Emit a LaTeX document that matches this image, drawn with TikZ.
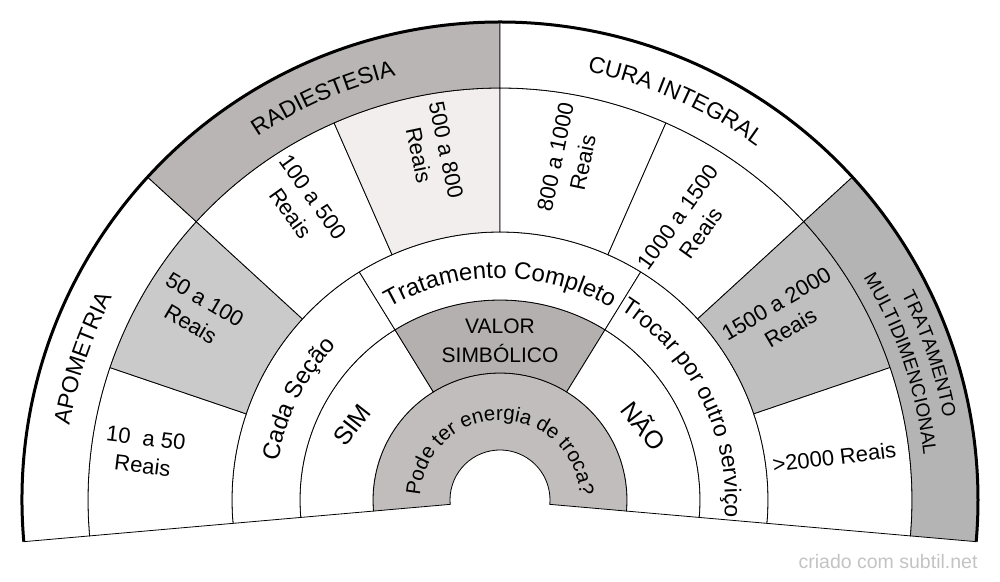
\documentclass[tikz,border=0pt]{standalone}
\usepackage{fontspec}
\setmainfont{Liberation Sans}
\usepackage{tikz}
\usetikzlibrary{decorations.text}
\definecolor{radiest}{RGB}{184,181,180}
\definecolor{multi}{RGB}{180,180,180}
\definecolor{cinzaclaro}{RGB}{203,202,202}
\definecolor{rosado}{RGB}{242,238,238}
\definecolor{cinzamedio}{RGB}{192,191,191}
\definecolor{valor}{RGB}{181,176,176}
\definecolor{troca}{RGB}{192,189,188}
\definecolor{marca}{RGB}{195,195,195}
\tikzset{
fatia/.style={draw=black,line width=0.8pt},
preco/.style={font=\fontsize{22}{28}\selectfont,align=center},
curva/.style={decorate,decoration={text along path,text align=center,text={#1}}}
}
\begin{document}
\begin{tikzpicture}[x=1pt,y=1pt]
\useasboundingbox (-500,-81) rectangle (500,500);
\foreach \a/\b/\r/\R/\c in {185/-5/50/127/troca,
185/121.67/127/200/white,121.67/58.33/127/200/valor,58.33/-5/127/200/white,
185/121.67/200/268/white,121.67/58.33/200/268/white,58.33/-5/200/268/white,
185/161.25/268/412/white,161.25/137.5/268/412/cinzaclaro,137.5/113.75/268/412/white,113.75/90/268/412/rosado,
90/66.25/268/412/white,66.25/42.5/268/412/white,42.5/18.75/268/412/cinzamedio,18.75/-5/268/412/white,
185/137.5/412/478/white,137.5/90/412/478/radiest,90/42.5/412/478/white,42.5/-5/412/478/multi}
\filldraw[fatia,fill=\c](\a:\r)arc[start angle=\a,end angle=\b,radius=\r]--(\b:\R)arc[start angle=\b,end angle=\a,radius=\R]--cycle;
\draw[line width=3pt](185:478)arc[start angle=185,end angle=-5,radius=478];
\path[curva={|\fontsize{20.5}{21}\selectfont|Pode ter energia de troca?}](185:80)arc[start angle=185,end angle=-5,radius=80];
\node[font=\fontsize{21}{29}\selectfont,align=center](valor) at (0,159){VALOR\\SIMBÓLICO};
\node[font=\fontsize{25}{25}\selectfont,rotate=52](sim) at (-148,75){SIM};
\node[font=\fontsize{25}{25}\selectfont,rotate=-52](nao) at (145,75){NÃO};
\path[curva={|\fontsize{24}{24}\selectfont|Cada Seção}](185:225)arc[start angle=185,end angle=121.67,radius=225];
\path[curva={|\fontsize{24}{24}\selectfont|Tratamento Completo}](121.67:222)arc[start angle=121.67,end angle=58.33,radius=222];
\path[curva={|\fontsize{23}{23}\selectfont|Trocar por outro serviço}](58.33:225)arc[start angle=58.33,end angle=-5,radius=225];
\node[preco,rotate=-6.9](p10) at (172.3:359){10\ \ a 50\\Reais};
\node[preco,rotate=-30.6](p50) at (148.1:356){50 a 100\\Reais};
\node[preco,rotate=-54.4](p100) at (123.9:355){100 a 500\\Reais};
\node[preco,rotate=-78.1](p500) at (101:354){500 a 800\\Reais};
\node[preco,rotate=78.1](p800) at (78.5:347){800 a 1000\\Reais};
\node[preco,rotate=54.4](p1000) at (55.4:334){1000 a 1500\\Reais};
\node[preco,rotate=30.6](p1500) at (33:338){1500 a 2000\\Reais};
\node[preco,rotate=6.9](p2000) at (7.3:337){>2000 Reais};
\path[curva={|\fontsize{23}{23}\selectfont|APOMETRIA}](185:437)arc[start angle=185,end angle=137.5,radius=437];
\path[curva={|\fontsize{23}{23}\selectfont|RADIESTESIA}](137.5:437)arc[start angle=137.5,end angle=90,radius=437];
\path[curva={|\fontsize{23}{23}\selectfont|CURA INTEGRAL}](90:437)arc[start angle=90,end angle=42.5,radius=437];
\path[curva={|\fontsize{19}{19}\selectfont|TRATAMENTO}](42.5:451)arc[start angle=42.5,end angle=-5,radius=451];
\path[curva={|\fontsize{19}{19}\selectfont|MULTIDIMENCIONAL}](42.5:426)arc[start angle=42.5,end angle=-5,radius=426];
\node[anchor=east,text=marca,font=\fontsize{19.5}{20}\selectfont](wm) at (481,-62){criado com subtil.net};
\end{tikzpicture}
\end{document}
